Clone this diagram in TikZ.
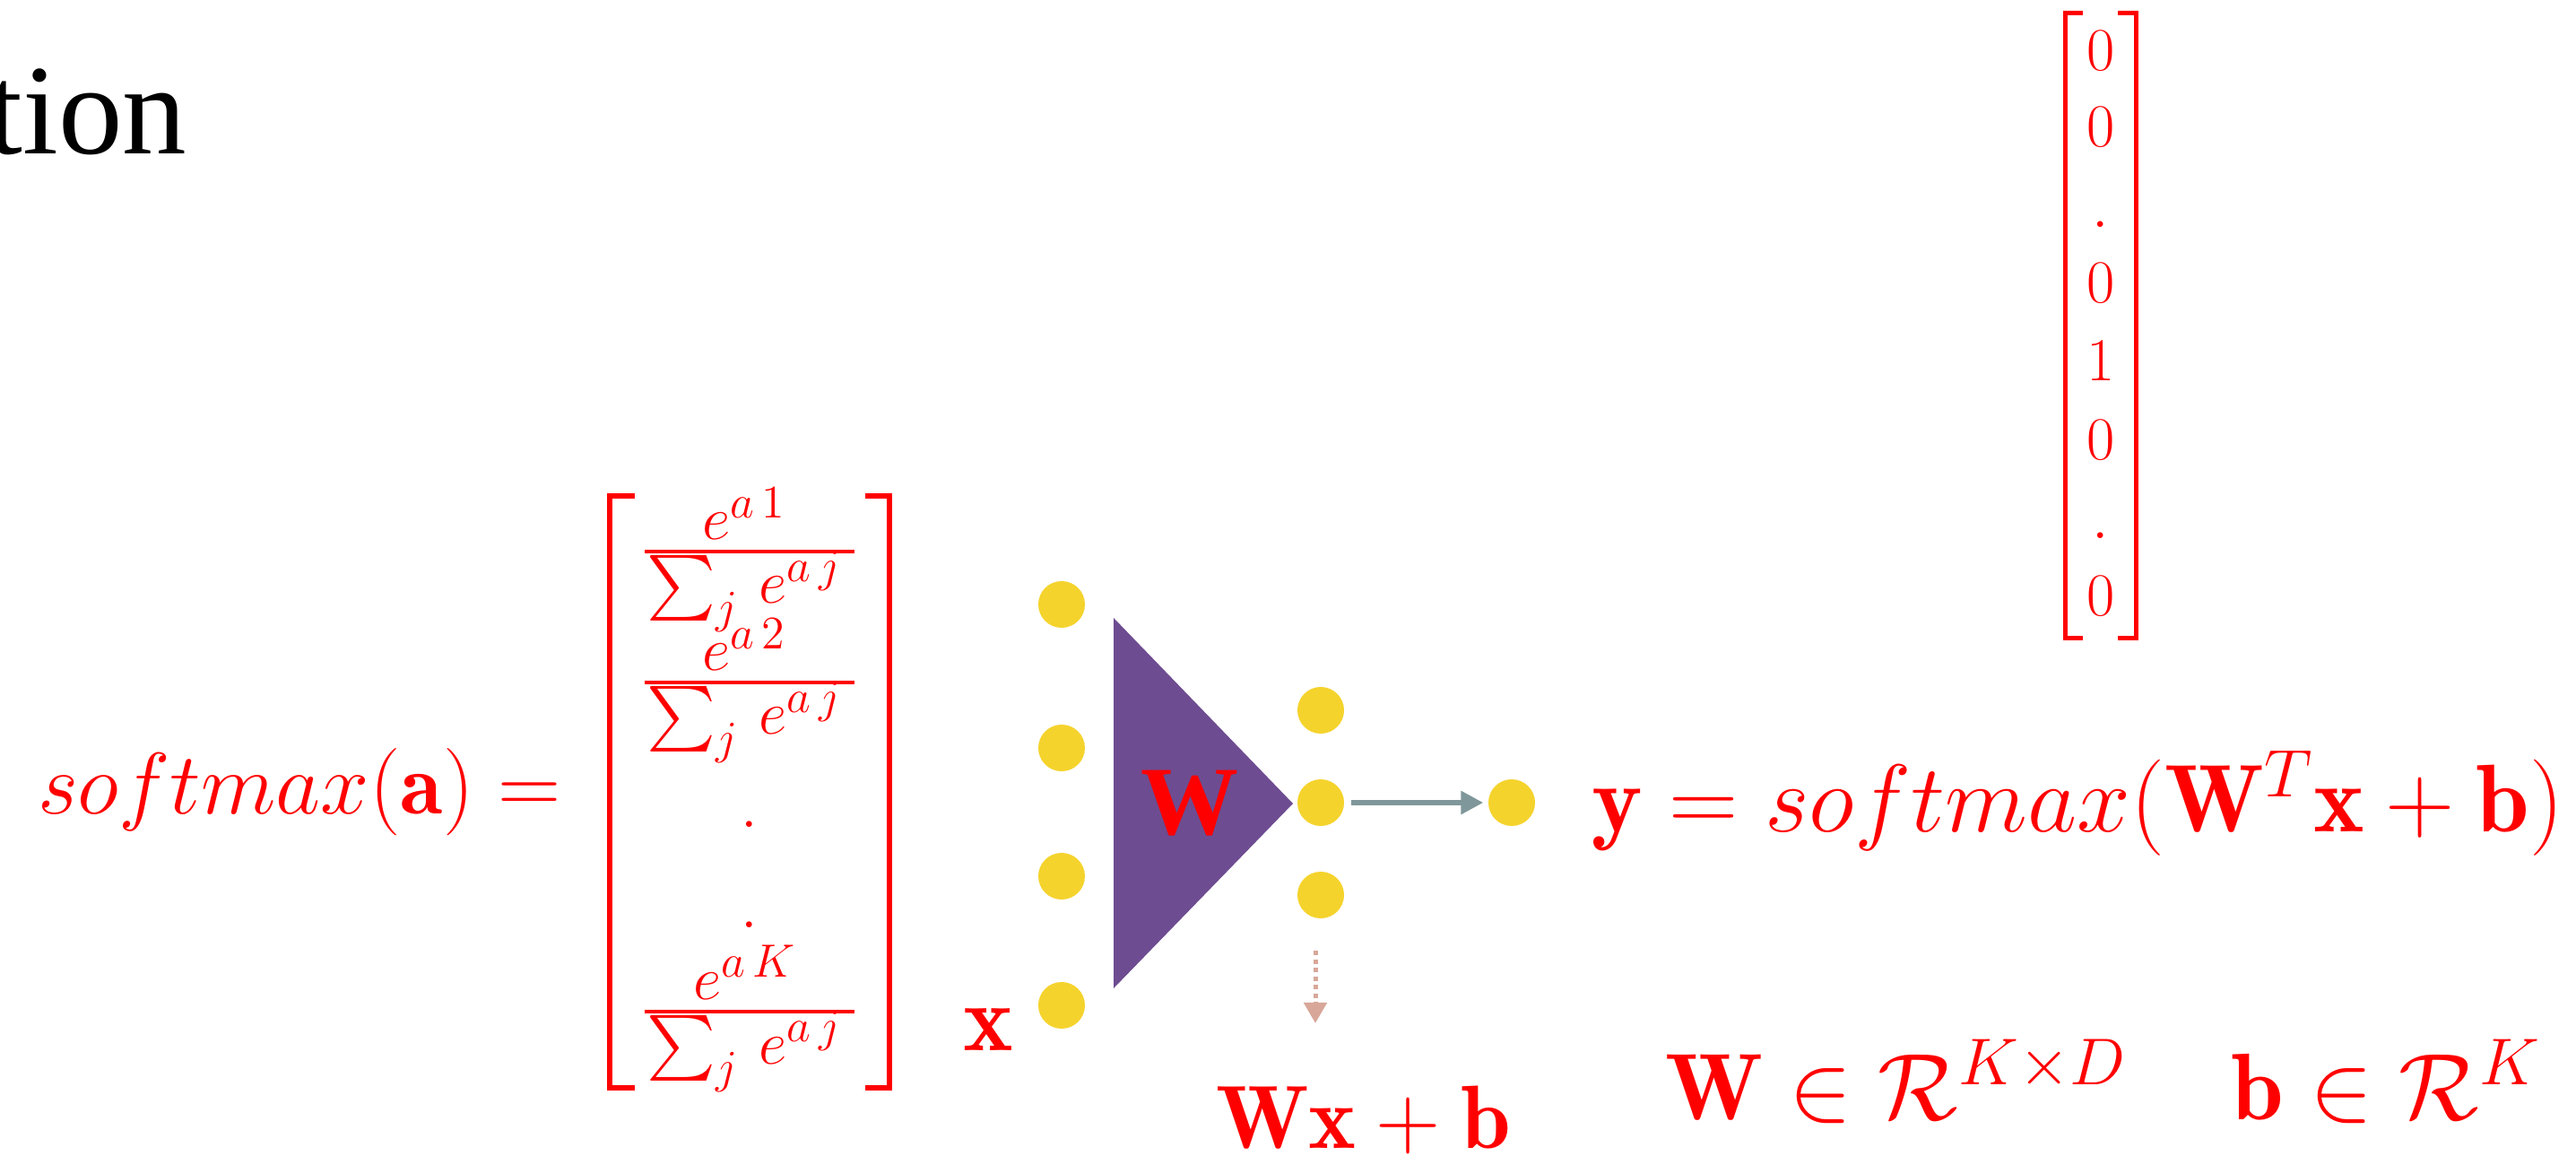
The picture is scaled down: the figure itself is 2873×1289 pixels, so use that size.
\RequirePackage{fix-cm}
\documentclass[tikz,border=0pt]{standalone}
\usepackage{amsmath}
\usepackage{fontspec}
\newfontfamily\tionfont{Liberation Serif}
\usetikzlibrary{arrows.meta}
\definecolor{dotyellow}{RGB}{245,211,45}
\definecolor{wpurple}{RGB}{109,76,145}
\definecolor{arrowgray}{RGB}{127,151,154}
\definecolor{dotpink}{RGB}{216,167,153}
\DeclareMathSizes{19.5}{19.5}{14.8}{10}
\begin{document}
\begin{tikzpicture}[x=0.01cm,y=-0.01cm,
  txt/.style={text=red, inner sep=0pt, outer sep=0pt},
  bigf/.style={font=\fontsize{30.5}{34}\selectfont},
  dimf/.style={font=\fontsize{30}{34}\selectfont},
  smf/.style={font=\fontsize{27.7}{32}\selectfont},
  fracf/.style={font=\fontsize{19.5}{23}\selectfont},
  vecf/.style={font=\fontsize{19.3}{23}\selectfont},
  dot/.style={circle, fill=dotyellow, draw=none, minimum size=0.52cm, inner sep=0pt},
  brk/.style={draw=red, line width=0.06cm},
  brkv/.style={draw=red, line width=0.05cm},
  fbar/.style={draw=red, line width=0.04cm},
  grayarrow/.style={draw=arrowgray, line width=0.06cm, -{Triangle[length=0.25cm,width=0.25cm]}},
  pinkarrow/.style={draw=dotpink, line width=0.05cm, dash pattern=on 0.05cm off 0.045cm, -{Triangle[length=0.23cm,width=0.25cm]}}
]
\useasboundingbox (0,0) rectangle (2873,1289);

% title fragment
\node[inner sep=0pt, anchor=base east, font=\tionfont\fontsize{40.7}{48}\selectfont] (tion) at (209,172) {tion};

% softmax(a) =
\node[txt, smf, anchor=base west] (smleft) at (42,908) {$softmax(\mathbf{a}) =$};

% left matrix brackets
\draw[brk] (708,553) -- (680,553) -- (680,1213) -- (708,1213);
\draw[brk] (965,553) -- (992,553) -- (992,1213) -- (965,1213);

% fractions
\node[txt, fracf, anchor=base] (n1) at (830,602) {$e^{a\,1}$};
\draw[fbar] (719,615) -- (953,615);
\node[txt, fracf, anchor=base] (d1) at (830,673) {$\sum_j\, e^{a\,j}$};

\node[txt, fracf, anchor=base] (n2) at (830,748) {$e^{a\,2}$};
\draw[fbar] (719,761) -- (953,761);
\node[txt, fracf, anchor=base] (d2) at (830,819) {$\sum_j\, e^{a\,j}$};

\node[txt, fracf, anchor=center] (m1) at (836,919) {$.$};
\node[txt, fracf, anchor=center] (m2) at (836,1031) {$.$};

\node[txt, fracf, anchor=base] (nk) at (831,1114) {$e^{a\,K}$};
\draw[fbar] (719,1128) -- (953,1128);
\node[txt, fracf, anchor=base] (dk) at (830,1186) {$\sum_j\, e^{a\,j}$};

% network
\fill[wpurple] (1242,689) -- (1442,896) -- (1242,1102) -- cycle;
\node[txt, anchor=center, font=\tionfont\bfseries\fontsize{31}{36}\selectfont] (wlab) at (1327,896) {W};

\node[dot] (x1) at (1184,674) {};
\node[dot] (x2) at (1184,834) {};
\node[dot] (x3) at (1184,977) {};
\node[dot] (x4) at (1184,1121) {};
\node[txt, anchor=center, font=\fontsize{30}{34}\selectfont] (xlab) at (1102,1148) {$\mathbf{x}$};

\node[dot] (h1) at (1473,792) {};
\node[dot] (h2) at (1473,895) {};
\node[dot] (h3) at (1473,998) {};
\node[dot] (out) at (1686,895) {};

\draw[grayarrow, shorten <=0.07cm, shorten >=0.05cm] (h2) -- (out);

\coordinate (dtop) at (1467,1060);
\coordinate (dbot) at (1467,1141);
\draw[pinkarrow] (dtop) -- (dbot);

\node[txt, anchor=base west, font=\fontsize{28.5}{32}\selectfont] (wxb) at (1356,1280) {$\mathbf{Wx}+\mathbf{b}$};

% output formula
\node[txt, bigf, anchor=base west] (yeq) at (1775,927) {$\mathbf{y} = softmax(\mathbf{W}^T\mathbf{x}+\mathbf{b})$};

\node[txt, dimf, anchor=base west] (wdim) at (1857,1248) {$\mathbf{W} \in \mathcal{R}^{K\times D}$};
\node[txt, dimf, anchor=base west] (bdim) at (2488,1248) {$\mathbf{b} \in \mathcal{R}^{K}$};

% one-hot vector
\draw[brkv] (2323,15) -- (2303,15) -- (2303,712) -- (2323,712);
\draw[brkv] (2362,15) -- (2382,15) -- (2382,712) -- (2362,712);
\node[txt, vecf] (v1) at (2343,57) {$0$};
\node[txt, vecf] (v2) at (2343,142) {$0$};
\node[txt, vecf] (v3) at (2343,250) {$.$};
\node[txt, vecf] (v4) at (2343,316) {$0$};
\node[txt, vecf] (v5) at (2343,403) {$1$};
\node[txt, vecf] (v6) at (2343,491) {$0$};
\node[txt, vecf] (v7) at (2343,597) {$.$};
\node[txt, vecf] (v8) at (2343,665) {$0$};
\end{tikzpicture}
\end{document}
